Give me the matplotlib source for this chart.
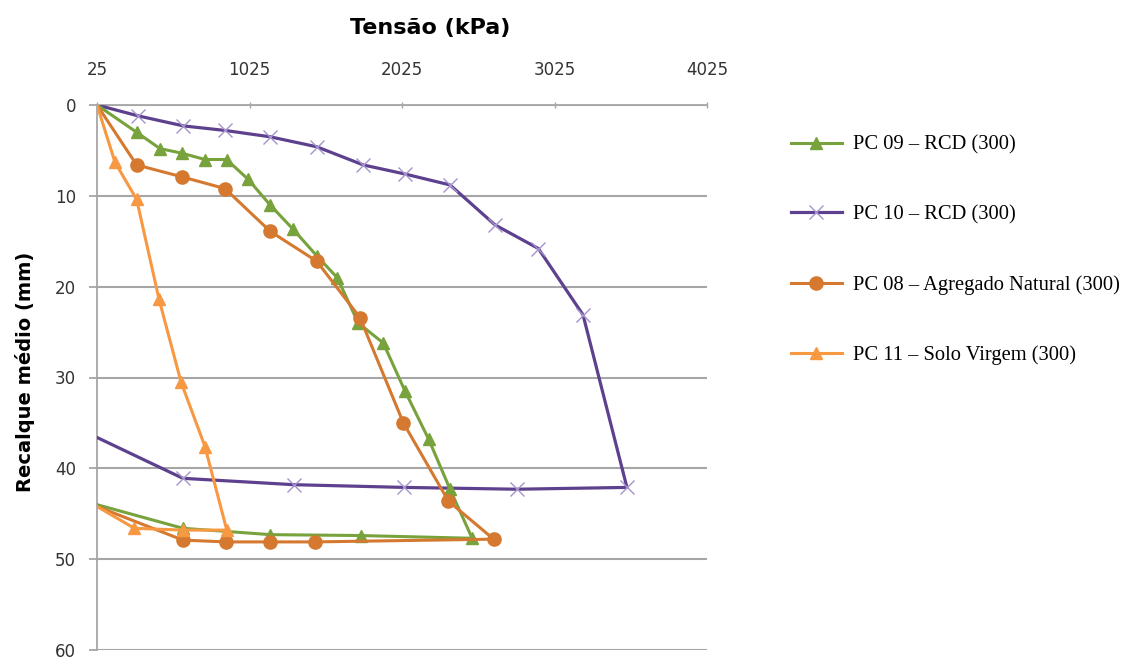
import numpy as np
import matplotlib
matplotlib.use("Agg")
import matplotlib.pyplot as plt

# PC 09 - RCD (300)
pc09_x = [25, 285, 438, 580, 733, 875, 1017, 1160, 1312, 1466, 1600, 1738, 1902, 2045, 2200, 2340, 2485,
          1759, 1162, 588, 25]
pc09_y = [0, 3.0, 4.8, 5.3, 6.0, 6.0, 8.2, 11.0, 13.7, 16.6, 19.0, 24.0, 26.2, 31.5, 36.8, 42.3, 47.7,
          47.4, 47.3, 46.6, 44.0]

# PC 10 - RCD (300)
pc10_x = [25, 296, 591, 864, 1160, 1466, 1771, 2045, 2340, 2635, 2919, 3212, 3500,
          2778, 2040, 1314, 588, 25]
pc10_y = [0, 1.2, 2.3, 2.8, 3.5, 4.6, 6.6, 7.6, 8.8, 13.2, 15.8, 23.1, 42.1,
          42.3, 42.1, 41.8, 41.1, 36.6]

# PC 08 - Agregado Natural (300)
pc08_x = [25, 285, 580, 864, 1160, 1466, 1749, 2034, 2329, 2626,
          1455, 1162, 869, 588, 25]
pc08_y = [0, 6.6, 7.9, 9.2, 13.9, 17.2, 23.4, 35.0, 43.6, 47.8,
          48.1, 48.1, 48.1, 47.9, 44.2]

# PC 11 - Solo Virgem (300)
pc11_x = [25, 143, 285, 432, 576, 733, 876, 588, 270, 25]
pc11_y = [0, 6.3, 10.4, 21.4, 30.5, 37.6, 46.8, 46.8, 46.6, 44.2]

x_ticks = [25, 1025, 2025, 3025, 4025]
y_ticks = [0, 10, 20, 30, 40, 50, 60]

fig = plt.figure(figsize=(11.37, 6.6), dpi=100)
ax = fig.add_axes([97 / 1137, 1 - 650 / 660, 610 / 1137, 545 / 660])

grey = "#A6A6A6"

def inner(n):
    return list(range(1, n - 1))

h1, = ax.plot(pc09_x, pc09_y, color="#77A23C", lw=2.2, marker="^", ms=9,
              markevery=inner(len(pc09_x)), label="PC 09 \u2013 RCD (300)", zorder=4)
h2, = ax.plot(pc10_x, pc10_y, color="#5E418E", lw=2.3, marker="x", ms=10, mew=1.0,
              mec="#A594CC", markevery=inner(len(pc10_x)), label="PC 10 \u2013 RCD (300)", zorder=3)
h3, = ax.plot(pc08_x, pc08_y, color="#D4792F", lw=2.2, marker="o", ms=9.5,
              markevery=inner(len(pc08_x)), label="PC 08 \u2013 Agregado Natural (300)", zorder=5)
h4, = ax.plot(pc11_x, pc11_y, color="#F79843", lw=2.2, marker="^", ms=9,
              markevery=inner(len(pc11_x)), label="PC 11 \u2013 Solo Virgem (300)", zorder=6)

ax.set_xlim(25, 4025)
ax.set_ylim(60, 0)
ax.set_xticks(x_ticks)
ax.set_yticks(y_ticks)
ax.xaxis.tick_top()
ax.yaxis.grid(True, color=grey, lw=1.5)
ax.set_axisbelow(True)

for s in ["right", "bottom"]:
    ax.spines[s].set_visible(False)
for s in ["left", "top"]:
    ax.spines[s].set_color(grey)
    ax.spines[s].set_linewidth(1.3)

ax.tick_params(axis="x", direction="inout", length=5, color=grey, width=1,
               pad=16, labelsize=12, labelcolor="#333333")
ax.tick_params(axis="y", direction="out", length=6, color=grey, width=1.3,
               pad=9, labelsize=12, labelcolor="#333333")

fig.text(430 / 1137, 1 - 28 / 660, "Tensão (kPa)", fontsize=16, fontweight="bold",
         ha="center", va="center")
fig.text(25 / 1137, 1 - 372 / 660, "Recalque médio (mm)", fontsize=14, fontweight="bold",
         ha="center", va="center", rotation=90)

fig.legend(handles=[h1, h2, h3, h4], loc="upper left",
           bbox_to_anchor=(772 / 1137, 1 - 117 / 660), frameon=False,
           prop={"family": "Liberation Serif", "size": 14.8},
           handlelength=2.5, handletextpad=0.55, labelspacing=2.45)

fig.savefig("out.png", dpi=100)
